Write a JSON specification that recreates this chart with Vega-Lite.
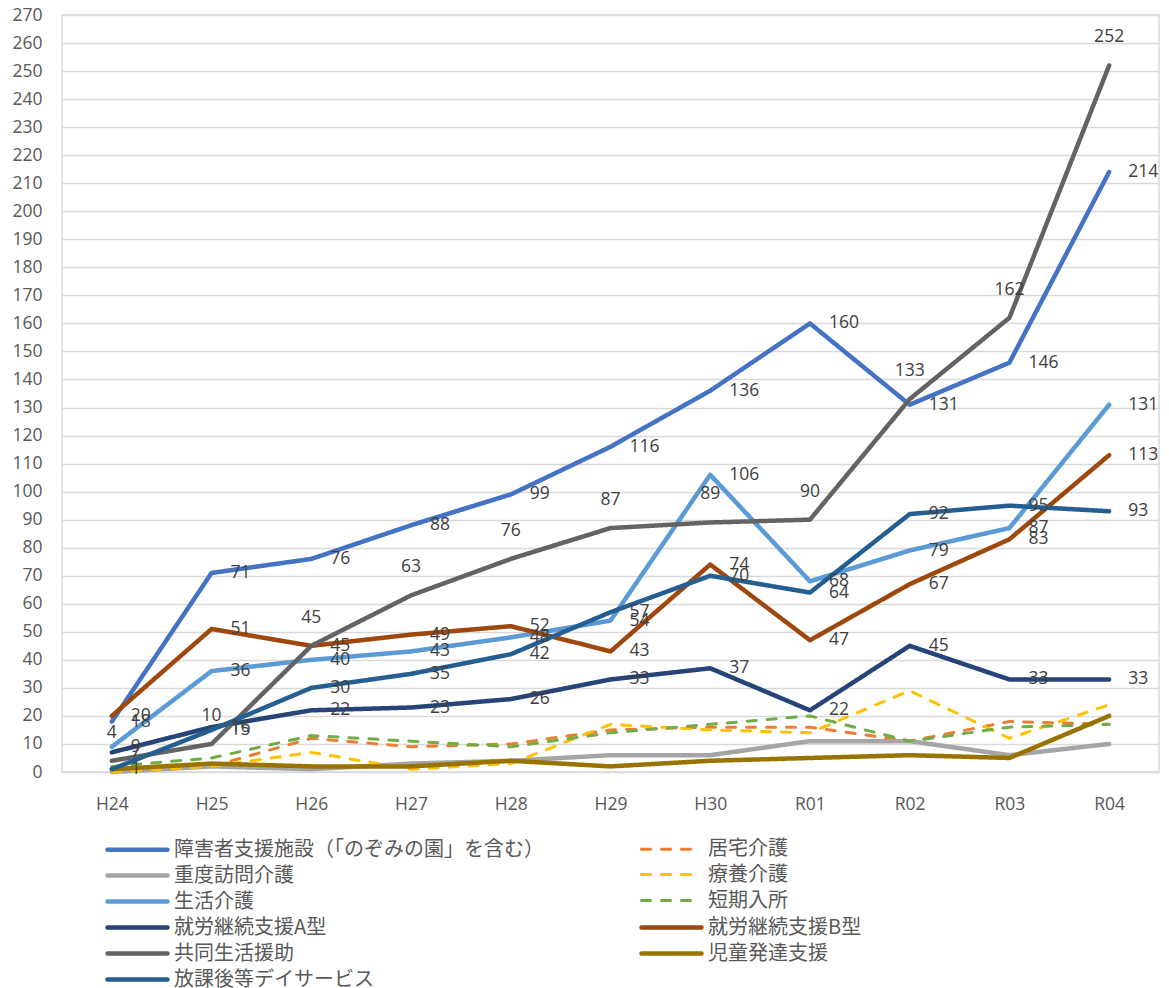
{
  "$schema": "https://vega.github.io/schema/vega-lite/v6.json",
  "autosize": {"type": "none"},
  "width": 1097,
  "height": 757,
  "padding": {"left": 62, "top": 15, "right": 10, "bottom": 216},
  "background": "white",
  "config": {
    "view": {"stroke": "#D9D9D9", "strokeWidth": 1.5},
    "axis": {"labelFont": "Open Sans", "labelFontSize": 17.5, "labelColor": "#595959", "ticks": false, "domain": false, "title": null, "gridColor": "#D9D9D9", "gridWidth": 1.5}
  },
  "data": {"values": [
    {"s": "障害者支援施設（「のぞみの園」を含む）", "y": "H24", "v": 18},
    {"s": "障害者支援施設（「のぞみの園」を含む）", "y": "H25", "v": 71},
    {"s": "障害者支援施設（「のぞみの園」を含む）", "y": "H26", "v": 76},
    {"s": "障害者支援施設（「のぞみの園」を含む）", "y": "H27", "v": 88},
    {"s": "障害者支援施設（「のぞみの園」を含む）", "y": "H28", "v": 99},
    {"s": "障害者支援施設（「のぞみの園」を含む）", "y": "H29", "v": 116},
    {"s": "障害者支援施設（「のぞみの園」を含む）", "y": "H30", "v": 136},
    {"s": "障害者支援施設（「のぞみの園」を含む）", "y": "R01", "v": 160},
    {"s": "障害者支援施設（「のぞみの園」を含む）", "y": "R02", "v": 131},
    {"s": "障害者支援施設（「のぞみの園」を含む）", "y": "R03", "v": 146},
    {"s": "障害者支援施設（「のぞみの園」を含む）", "y": "R04", "v": 214},
    {"s": "居宅介護", "y": "H24", "v": 1},
    {"s": "居宅介護", "y": "H25", "v": 2},
    {"s": "居宅介護", "y": "H26", "v": 12},
    {"s": "居宅介護", "y": "H27", "v": 9},
    {"s": "居宅介護", "y": "H28", "v": 10},
    {"s": "居宅介護", "y": "H29", "v": 15},
    {"s": "居宅介護", "y": "H30", "v": 16},
    {"s": "居宅介護", "y": "R01", "v": 16},
    {"s": "居宅介護", "y": "R02", "v": 11},
    {"s": "居宅介護", "y": "R03", "v": 18},
    {"s": "居宅介護", "y": "R04", "v": 17},
    {"s": "重度訪問介護", "y": "H24", "v": 0},
    {"s": "重度訪問介護", "y": "H25", "v": 2},
    {"s": "重度訪問介護", "y": "H26", "v": 1},
    {"s": "重度訪問介護", "y": "H27", "v": 3},
    {"s": "重度訪問介護", "y": "H28", "v": 4},
    {"s": "重度訪問介護", "y": "H29", "v": 6},
    {"s": "重度訪問介護", "y": "H30", "v": 6},
    {"s": "重度訪問介護", "y": "R01", "v": 11},
    {"s": "重度訪問介護", "y": "R02", "v": 11},
    {"s": "重度訪問介護", "y": "R03", "v": 6},
    {"s": "重度訪問介護", "y": "R04", "v": 10},
    {"s": "療養介護", "y": "H24", "v": 0},
    {"s": "療養介護", "y": "H25", "v": 2},
    {"s": "療養介護", "y": "H26", "v": 7},
    {"s": "療養介護", "y": "H27", "v": 1},
    {"s": "療養介護", "y": "H28", "v": 3},
    {"s": "療養介護", "y": "H29", "v": 17},
    {"s": "療養介護", "y": "H30", "v": 15},
    {"s": "療養介護", "y": "R01", "v": 14},
    {"s": "療養介護", "y": "R02", "v": 29},
    {"s": "療養介護", "y": "R03", "v": 12},
    {"s": "療養介護", "y": "R04", "v": 24},
    {"s": "生活介護", "y": "H24", "v": 9},
    {"s": "生活介護", "y": "H25", "v": 36},
    {"s": "生活介護", "y": "H26", "v": 40},
    {"s": "生活介護", "y": "H27", "v": 43},
    {"s": "生活介護", "y": "H28", "v": 48},
    {"s": "生活介護", "y": "H29", "v": 54},
    {"s": "生活介護", "y": "H30", "v": 106},
    {"s": "生活介護", "y": "R01", "v": 68},
    {"s": "生活介護", "y": "R02", "v": 79},
    {"s": "生活介護", "y": "R03", "v": 87},
    {"s": "生活介護", "y": "R04", "v": 131},
    {"s": "短期入所", "y": "H24", "v": 2},
    {"s": "短期入所", "y": "H25", "v": 5},
    {"s": "短期入所", "y": "H26", "v": 13},
    {"s": "短期入所", "y": "H27", "v": 11},
    {"s": "短期入所", "y": "H28", "v": 9},
    {"s": "短期入所", "y": "H29", "v": 14},
    {"s": "短期入所", "y": "H30", "v": 17},
    {"s": "短期入所", "y": "R01", "v": 20},
    {"s": "短期入所", "y": "R02", "v": 11},
    {"s": "短期入所", "y": "R03", "v": 16},
    {"s": "短期入所", "y": "R04", "v": 17},
    {"s": "就労継続支援A型", "y": "H24", "v": 7},
    {"s": "就労継続支援A型", "y": "H25", "v": 16},
    {"s": "就労継続支援A型", "y": "H26", "v": 22},
    {"s": "就労継続支援A型", "y": "H27", "v": 23},
    {"s": "就労継続支援A型", "y": "H28", "v": 26},
    {"s": "就労継続支援A型", "y": "H29", "v": 33},
    {"s": "就労継続支援A型", "y": "H30", "v": 37},
    {"s": "就労継続支援A型", "y": "R01", "v": 22},
    {"s": "就労継続支援A型", "y": "R02", "v": 45},
    {"s": "就労継続支援A型", "y": "R03", "v": 33},
    {"s": "就労継続支援A型", "y": "R04", "v": 33},
    {"s": "就労継続支援B型", "y": "H24", "v": 20},
    {"s": "就労継続支援B型", "y": "H25", "v": 51},
    {"s": "就労継続支援B型", "y": "H26", "v": 45},
    {"s": "就労継続支援B型", "y": "H27", "v": 49},
    {"s": "就労継続支援B型", "y": "H28", "v": 52},
    {"s": "就労継続支援B型", "y": "H29", "v": 43},
    {"s": "就労継続支援B型", "y": "H30", "v": 74},
    {"s": "就労継続支援B型", "y": "R01", "v": 47},
    {"s": "就労継続支援B型", "y": "R02", "v": 67},
    {"s": "就労継続支援B型", "y": "R03", "v": 83},
    {"s": "就労継続支援B型", "y": "R04", "v": 113},
    {"s": "共同生活援助", "y": "H24", "v": 4},
    {"s": "共同生活援助", "y": "H25", "v": 10},
    {"s": "共同生活援助", "y": "H26", "v": 45},
    {"s": "共同生活援助", "y": "H27", "v": 63},
    {"s": "共同生活援助", "y": "H28", "v": 76},
    {"s": "共同生活援助", "y": "H29", "v": 87},
    {"s": "共同生活援助", "y": "H30", "v": 89},
    {"s": "共同生活援助", "y": "R01", "v": 90},
    {"s": "共同生活援助", "y": "R02", "v": 133},
    {"s": "共同生活援助", "y": "R03", "v": 162},
    {"s": "共同生活援助", "y": "R04", "v": 252},
    {"s": "児童発達支援", "y": "H24", "v": 1},
    {"s": "児童発達支援", "y": "H25", "v": 3},
    {"s": "児童発達支援", "y": "H26", "v": 2},
    {"s": "児童発達支援", "y": "H27", "v": 2},
    {"s": "児童発達支援", "y": "H28", "v": 4},
    {"s": "児童発達支援", "y": "H29", "v": 2},
    {"s": "児童発達支援", "y": "H30", "v": 4},
    {"s": "児童発達支援", "y": "R01", "v": 5},
    {"s": "児童発達支援", "y": "R02", "v": 6},
    {"s": "児童発達支援", "y": "R03", "v": 5},
    {"s": "児童発達支援", "y": "R04", "v": 20},
    {"s": "放課後等デイサービス", "y": "H24", "v": 1},
    {"s": "放課後等デイサービス", "y": "H25", "v": 15},
    {"s": "放課後等デイサービス", "y": "H26", "v": 30},
    {"s": "放課後等デイサービス", "y": "H27", "v": 35},
    {"s": "放課後等デイサービス", "y": "H28", "v": 42},
    {"s": "放課後等デイサービス", "y": "H29", "v": 57},
    {"s": "放課後等デイサービス", "y": "H30", "v": 70},
    {"s": "放課後等デイサービス", "y": "R01", "v": 64},
    {"s": "放課後等デイサービス", "y": "R02", "v": 92},
    {"s": "放課後等デイサービス", "y": "R03", "v": 95},
    {"s": "放課後等デイサービス", "y": "R04", "v": 93}
  ]},
  "encoding": {
    "x": {"field": "y", "type": "ordinal", "sort": ["H24","H25","H26","H27","H28","H29","H30","R01","R02","R03","R04"], "axis": {"labelAngle": 0, "grid": false, "labelPadding": 23}, "title": null},
    "y": {"field": "v", "type": "quantitative", "scale": {"domain": [0, 270], "nice": false}, "axis": {"values": [0,10,20,30,40,50,60,70,80,90,100,110,120,130,140,150,160,170,180,190,200,210,220,230,240,250,260,270], "labelPadding": 20, "grid": true}, "title": null}
  },
  "layer": [
    {
      "mark": {"type": "line", "strokeCap": "round", "strokeJoin": "round"},
      "encoding": {
        "color": {"field": "s", "type": "nominal",
          "scale": {"domain": ["障害者支援施設（「のぞみの園」を含む）","重度訪問介護","生活介護","就労継続支援A型","共同生活援助","放課後等デイサービス","居宅介護","療養介護","短期入所","就労継続支援B型","児童発達支援"],
                    "range": ["#4472C4","#A5A5A5","#5B9BD5","#264478","#636363","#255E91","#ED7D31","#FFC000","#70AD47","#9E480E","#997300"]},
          "legend": {"orient": "none", "legendX": 63, "legendY": 822, "columns": 2, "title": null, "symbolType": "M-3,0H3", "symbolSize": 400, "labelFont": "Noto Sans CJK JP", "labelFontSize": 20, "labelColor": "#595959", "labelOffset": 24, "rowPadding": 3, "columnPadding": 88, "labelLimit": 0, "padding": 0,
            "encode": {"symbols": {"update": {"strokeCap": {"value": "round"}}}}}},
        "strokeDash": {"field": "s", "type": "nominal",
          "scale": {"type": "ordinal", "domain": ["障害者支援施設（「のぞみの園」を含む）","重度訪問介護","生活介護","就労継続支援A型","共同生活援助","放課後等デイサービス","居宅介護","療養介護","短期入所","就労継続支援B型","児童発達支援"],
                    "range": [[1,0],[1,0],[1,0],[1,0],[1,0],[1,0],[9,11],[9,11],[9,11],[1,0],[1,0]]}},
        "strokeWidth": {"field": "s", "type": "nominal",
          "scale": {"type": "ordinal", "domain": ["障害者支援施設（「のぞみの園」を含む）","重度訪問介護","生活介護","就労継続支援A型","共同生活援助","放課後等デイサービス","居宅介護","療養介護","短期入所","就労継続支援B型","児童発達支援"],
                    "range": [4.5,4.5,4.5,4.5,4.5,4.5,3,3,3,4.5,4.5]}}
      }
    },
    {
      "transform": [{"filter": {"field": "s", "oneOf": ["障害者支援施設（「のぞみの園」を含む）","生活介護","就労継続支援A型","就労継続支援B型","放課後等デイサービス"]}}],
      "mark": {"type": "text", "align": "left", "baseline": "middle", "dx": 19, "font": "Open Sans", "fontSize": 17.5, "color": "#404040"},
      "encoding": {"text": {"field": "v", "type": "quantitative"}}
    },
    {
      "transform": [{"filter": {"field": "s", "equal": "共同生活援助"}}],
      "mark": {"type": "text", "align": "center", "baseline": "middle", "dy": -28, "font": "Open Sans", "fontSize": 17.5, "color": "#404040"},
      "encoding": {"text": {"field": "v", "type": "quantitative"}}
    }
  ]
}
